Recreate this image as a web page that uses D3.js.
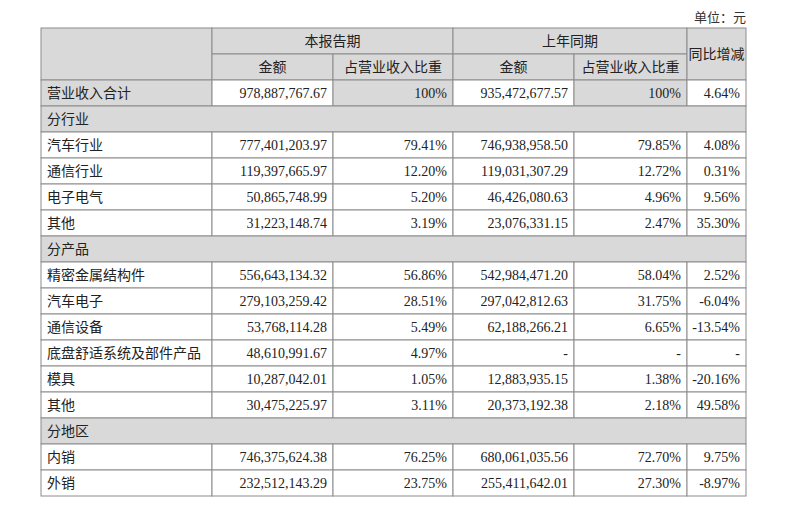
<!DOCTYPE html><html><head><meta charset="utf-8"><script src="https://d3js.org/d3.v7.min.js"></script>
<style>body{margin:0;background:#fff}</style></head><body><svg id="c" width="800" height="511"></svg>
<script>
const groups=["本报告期","上年同期"];
const subHeaders=["金额","占营业收入比重","金额","占营业收入比重"];
const yoyHeader="同比增减";
const unitLabel="单位：元";
const totalRow=["营业收入合计","978,887,767.67","100%","935,472,677.57","100%","4.64%"];
const sections=["分行业","分产品","分地区"];
const industryRows=[
["汽车行业","777,401,203.97","79.41%","746,938,958.50","79.85%","4.08%"],
["通信行业","119,397,665.97","12.20%","119,031,307.29","12.72%","0.31%"],
["电子电气","50,865,748.99","5.20%","46,426,080.63","4.96%","9.56%"],
["其他","31,223,148.74","3.19%","23,076,331.15","2.47%","35.30%"]];
const productRows=[
["精密金属结构件","556,643,134.32","56.86%","542,984,471.20","58.04%","2.52%"],
["汽车电子","279,103,259.42","28.51%","297,042,812.63","31.75%","-6.04%"],
["通信设备","53,768,114.28","5.49%","62,188,266.21","6.65%","-13.54%"],
["底盘舒适系统及部件产品","48,610,991.67","4.97%","-","-","-"],
["模具","10,287,042.01","1.05%","12,883,935.15","1.38%","-20.16%"],
["其他","30,475,225.97","3.11%","20,373,192.38","2.18%","49.58%"]];
const regionRows=[
["内销","746,375,624.38","76.25%","680,061,035.56","72.70%","9.75%"],
["外销","232,512,143.29","23.75%","255,411,642.01","27.30%","-8.97%"]];

const svg=d3.select("#c");
const colEdges=[41,212,333,453,574,687,746];
const cx=i=>colEdges[i];
const tableTop=28,rh=26;
const y=d3.scaleLinear().domain([0,1]).range([tableTop,tableTop+rh]);
const grey="#d9d9d9",line="#8c8c8c";
const font="'Liberation Serif','Noto Sans CJK SC',serif";
const G=svg.append("g");
function rect(x0,x1,r0,r1,fill){G.append("rect").attr("x",x0).attr("y",y(r0)).attr("width",x1-x0).attr("height",y(r1)-y(r0)).attr("fill",fill).attr("stroke",line).attr("stroke-width",1);}
function text(t,xp,r,anchor){G.append("text").attr("x",xp).attr("y",y(r)).attr("text-anchor",anchor).attr("dominant-baseline","central").attr("font-family",font).attr("font-size",14).attr("fill","#222").text(t);}
svg.append("text").attr("x",746).attr("y",17).attr("text-anchor","end").attr("dominant-baseline","central").attr("font-family",font).attr("font-size",13).attr("fill","#333").text(unitLabel);
rect(cx(0),cx(1),0,2,grey);
groups.forEach((g,i)=>{rect(cx(1+2*i),cx(3+2*i),0,1,grey);text(g,(cx(1+2*i)+cx(3+2*i))/2,0.5,"middle");});
subHeaders.forEach((h,i)=>{rect(cx(1+i),cx(2+i),1,2,grey);text(h,(cx(1+i)+cx(2+i))/2,1.5,"middle");});
rect(cx(5),cx(6),0,2,grey);text(yoyHeader,(cx(5)+cx(6))/2,1,"middle");
let r=2;
function dataRow(row,isTotal){
  row.forEach((v,i)=>{
    const fill=isTotal&&(i===0||i===2||i===4)?grey:"#fff";
    rect(cx(i),cx(i+1),r,r+1,fill);
    if(i===0)text(v,cx(0)+6,r+0.5,"start");else text(v,cx(i+1)-6,r+0.5,"end");
  });r++;
}
function section(s){rect(cx(0),cx(6),r,r+1,grey);text(s,cx(0)+6,r+0.5,"start");r++;}
dataRow(totalRow,true);
section(sections[0]);industryRows.forEach(d=>dataRow(d));
section(sections[1]);productRows.forEach(d=>dataRow(d));
section(sections[2]);regionRows.forEach(d=>dataRow(d));
</script></body></html>
